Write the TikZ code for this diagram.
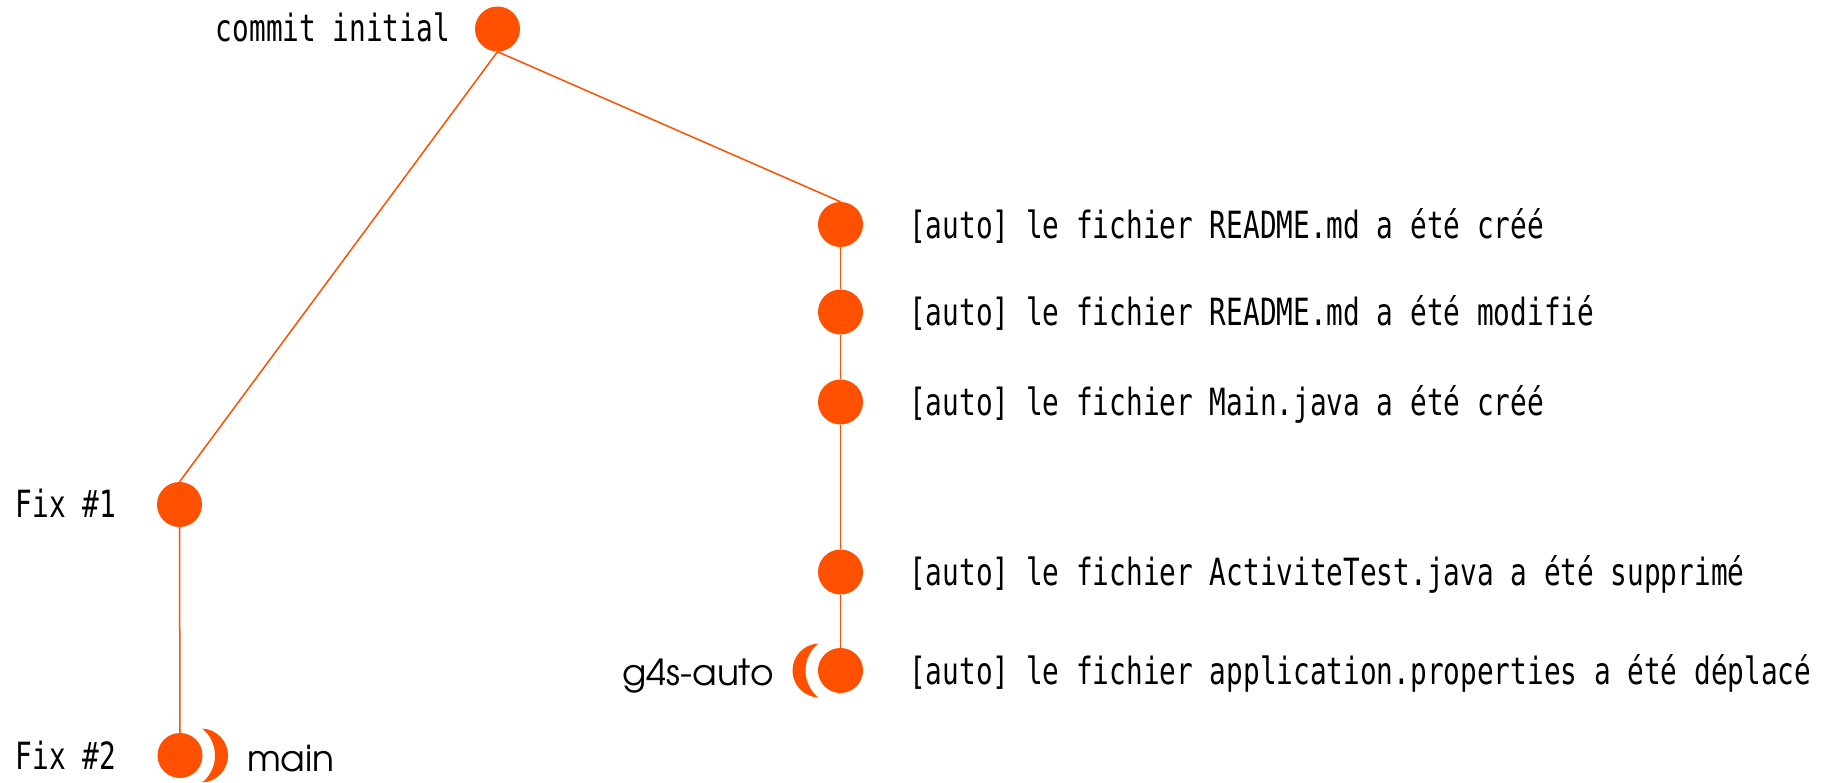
\documentclass[tikz,border=0pt]{standalone}
\usepackage{fontspec}
\usetikzlibrary{calc}
\newfontfamily\monofont[FakeStretch=0.74]{DejaVu Sans Mono}
\newfontfamily\geofont{TeX Gyre Adventor}
\definecolor{gitorange}{HTML}{FF5000}
\tikzset{
  commit/.style={circle, fill=gitorange, draw=none, minimum size=45pt, inner sep=0pt},
  link/.style={draw=gitorange, line width=1.5pt},
  msg/.style={inner sep=0pt, font=\monofont\fontsize{37.5}{40}\selectfont},
  branch/.style={inner sep=0pt, font=\geofont\fontsize{36}{40}\selectfont},
  tag/.style={fill=gitorange, draw=none}
}
\begin{document}
\begin{tikzpicture}[x=1pt,y=1pt]
\useasboundingbox (0,0) rectangle (1839,-782);

% commits
\node[commit] (c0) at (497.5,-29) {};
\node[commit] (f1) at (179.5,-504.5) {};
\node[commit] (f2) at (180,-755.5) {};
\node[commit] (a1) at (840.5,-224.5) {};
\node[commit] (a2) at (840.5,-312) {};
\node[commit] (a3) at (840.5,-402) {};
\node[commit] (a4) at (840.5,-572) {};
\node[commit] (a5) at (840.5,-670.5) {};

% history links
\draw[link] (c0.south) -- (f1.north);
\draw[link] (c0.south) -- (a1.north);
\draw[link] (f1.south) -- (f2.north);
\draw[link] (a1.south) -- (a2.north);
\draw[link] (a2.south) -- (a3.north);
\draw[link] (a3.south) -- (a4.north);
\draw[link] (a4.south) -- (a5.north);

% commit messages
\node[msg, anchor=base east] (t0) at (450,-41) {commit initial};
\node[msg, anchor=base west] (tf1) at (15.5,-517.5) {Fix \#1};
\node[msg, anchor=base west] (tf2) at (15.5,-769.5) {Fix \#2};
\node[msg, anchor=base west] (ta1) at (909,-238) {[auto] le fichier README.md a été créé};
\node[msg, anchor=base west] (ta2) at (909,-325.5) {[auto] le fichier README.md a été modifié};
\node[msg, anchor=base west] (ta3) at (909,-415.5) {[auto] le fichier Main.java a été créé};
\node[msg, anchor=base west] (ta4) at (909,-585.5) {[auto] le fichier ActiviteTest.java a été supprimé};
\node[msg, anchor=base west] (ta5) at (909,-684) {[auto] le fichier application.properties a été déplacé};

% branch head markers
\fill[tag] ($(f2)+(21,0)$) ++(87.2:27) arc[start angle=87.2, end angle=-87.2, radius=27]
  arc[start angle=-50.4, end angle=50.4, radius=35] -- cycle;
\fill[tag] ($(a5)+(-21,0)$) ++(92.8:27) arc[start angle=92.8, end angle=267.2, radius=27]
  arc[start angle=230.4, end angle=129.6, radius=35] -- cycle;

% branch names
\node[branch, anchor=base west] (bmain) at (247,-771) {main};
\node[branch, anchor=base east] (bauto) at (774,-685) {g4s-auto};
\end{tikzpicture}
\end{document}
